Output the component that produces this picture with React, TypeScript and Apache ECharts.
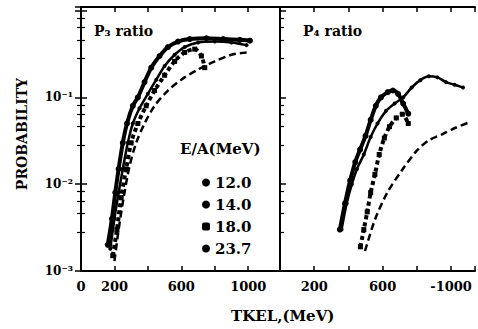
import React, { useEffect, useRef } from "react";
import * as echarts from "echarts";

// Energies per nucleon (legend)
const energyLabels = ["12.0", "14.0", "18.0", "23.7"];

// P3 ratio panel: [TKEL (MeV), probability]
const p3E120 = [[160, 0.002], [185, 0.004], [205, 0.008], [225, 0.015], [250, 0.03], [275, 0.05], [310, 0.08], [340, 0.1], [380, 0.15], [420, 0.22], [470, 0.3], [520, 0.38], [580, 0.44], [650, 0.47], [750, 0.48], [850, 0.47], [950, 0.46], [1010, 0.45]];
const p3E140 = [[175, 0.0018], [200, 0.004], [225, 0.008], [250, 0.015], [280, 0.03], [310, 0.05], [350, 0.075], [400, 0.11], [450, 0.16], [500, 0.23], [560, 0.31], [620, 0.38], [700, 0.43], [800, 0.44], [900, 0.43], [990, 0.4]];
const p3E180 = [[190, 0.0015], [215, 0.003], [240, 0.007], [270, 0.015], [300, 0.03], [340, 0.05], [390, 0.08], [440, 0.12], [500, 0.18], [560, 0.26], [620, 0.33], [680, 0.36], [720, 0.3], [740, 0.22]];
const p3E237 = [[200, 0.0013], [225, 0.003], [255, 0.007], [290, 0.016], [330, 0.03], [380, 0.05], [440, 0.08], [520, 0.12], [600, 0.16], [700, 0.21], [800, 0.26], [900, 0.31], [990, 0.33]];

// P4 ratio panel
const p4E120 = [[350, 0.003], [380, 0.006], [410, 0.011], [440, 0.018], [468, 0.025], [500, 0.036], [530, 0.055], [560, 0.08], [590, 0.1], [630, 0.115], [660, 0.12], [690, 0.11], [720, 0.085], [750, 0.065]];
const p4E140 = [[360, 0.003], [390, 0.006], [420, 0.01], [450, 0.015], [490, 0.022], [530, 0.035], [570, 0.05], [620, 0.07], [670, 0.085], [720, 0.1], [770, 0.13], [820, 0.158], [870, 0.175], [920, 0.17], [970, 0.15], [1020, 0.14], [1070, 0.13]];
const p4E180 = [[470, 0.0019], [490, 0.003], [510, 0.0048], [530, 0.008], [555, 0.013], [580, 0.022], [610, 0.034], [640, 0.046], [680, 0.058], [715, 0.064], [750, 0.05]];
const p4E237 = [[497, 0.0017], [555, 0.0039], [626, 0.0079], [713, 0.0145], [801, 0.0245], [870, 0.032], [953, 0.038], [1030, 0.045], [1111, 0.052]];

// Tick labels
const leftXTickLabels: Record<number, string> = { 0: "0", 200: "200", 600: "600", 1000: "1000" };
const rightXTickLabels: Record<number, string> = { 200: "200", 600: "600", 1000: "-1000" };
const yTickLabels: Record<number, string> = { [-3]: "10⁻³", [-2]: "10⁻²", [-1]: "10⁻¹" };

const panelTitles = ["P₃ ratio", "P₄ ratio"];
const legendTitle = "E/A(MeV)";
const xAxisTitle = "TKEL,(MeV)";
const yAxisTitle = "PROBABILITY";

const FONT = "DejaVu Serif";
const LOG_MAX = 1.1;

export default function App() {
  const ref = useRef<HTMLDivElement>(null);
  useEffect(() => {
    if (!ref.current) return;
    const chart = echarts.init(ref.current, undefined, { renderer: "svg" });

    const seriesStyle = (idx: number) => {
      if (idx === 0) return { lineStyle: { width: 4, color: "#000" }, symbol: "circle", symbolSize: 6, showSymbol: true };
      if (idx === 1) return { lineStyle: { width: 2.5, color: "#000" }, symbol: "circle", symbolSize: 4, showSymbol: true };
      if (idx === 2) return { lineStyle: { width: 4, color: "#000", type: [4, 3] }, symbol: "rect", symbolSize: 5, showSymbol: true };
      return { lineStyle: { width: 2.5, color: "#000", type: [7, 4] }, symbol: "none", showSymbol: false };
    };
    const mk = (name: string, data: number[][], idx: number, gi: number) => ({
      type: "line",
      name,
      data,
      xAxisIndex: gi,
      yAxisIndex: gi,
      smooth: 0.3,
      itemStyle: { color: "#000" },
      ...seriesStyle(idx),
    });

    const xBase = (gi: number, max: number, labels: Record<number, string>) => ({
      type: "value",
      gridIndex: gi,
      min: 0,
      max,
      interval: 200,
      position: "bottom",
      axisLine: { show: true, lineStyle: { color: "#000", width: 2 } },
      axisTick: { show: true, inside: true, length: 5, lineStyle: { color: "#000", width: 1.5 } },
      splitLine: { show: false },
      axisLabel: {
        show: true,
        color: "#000",
        fontFamily: FONT,
        fontWeight: "bold",
        fontSize: 13,
        margin: 9,
        showMaxLabel: true,
        formatter: (v: number) => labels[Math.round(v)] ?? "",
      },
    });
    const xTop = (gi: number, max: number) => ({
      type: "value",
      gridIndex: gi,
      min: 0,
      max,
      interval: 200,
      position: "top",
      axisLine: { show: true, lineStyle: { color: "#000", width: 2 } },
      axisTick: { show: true, inside: true, length: 5, lineStyle: { color: "#000", width: 1.5 } },
      splitLine: { show: false },
      axisLabel: { show: false },
    });
    const yAxis = (gi: number, position: string, showLabel: boolean, ticks: boolean) => ({
      type: "log",
      gridIndex: gi,
      min: 0.001,
      max: LOG_MAX,
      logBase: 10,
      position,
      axisLine: { show: true, lineStyle: { color: "#000", width: 2 } },
      axisTick: { show: ticks, inside: true, length: 6, lineStyle: { color: "#000", width: 1.5 } },
      minorTick: { show: ticks, length: 4, lineStyle: { color: "#000", width: 1.2 } },
      splitLine: { show: false },
      minorSplitLine: { show: false },
      axisLabel: {
        show: showLabel,
        color: "#000",
        fontFamily: FONT,
        fontWeight: "bold",
        fontSize: 12,
        margin: 8,
        formatter: (v: number) => yTickLabels[Math.round(Math.log10(v))] ?? "",
      },
    });

    const option = {
      animation: false,
      backgroundColor: "#fff",
      grid: [
        { left: 81, top: 7, width: 199, height: 264 },
        { left: 280, top: 7, width: 197, height: 264 },
      ],
      xAxis: [
        xBase(0, 1190, leftXTickLabels),
        xBase(1, 1140, rightXTickLabels),
        xTop(0, 1190),
        xTop(1, 1140),
      ],
      yAxis: [
        yAxis(0, "left", true, true),
        yAxis(1, "left", false, true),
        yAxis(0, "right", false, true),
        yAxis(1, "right", false, false),
      ],
      legend: {
        orient: "vertical",
        left: 197,
        top: 170,
        itemWidth: 8,
        itemHeight: 8,
        itemGap: 7,
        selectedMode: false,
        textStyle: { fontFamily: FONT, fontWeight: "bold", fontSize: 15, color: "#000" },
        data: energyLabels.map((n, i) => ({ name: n, icon: i === 2 ? "roundRect" : "circle", itemStyle: { color: "#000" } })),
      },
      graphic: [
        { type: "text", left: 94, top: 24, style: { text: panelTitles[0], fontFamily: FONT, fontWeight: "bold", fontSize: 14, fill: "#000" } },
        { type: "text", left: 303, top: 24, style: { text: panelTitles[1], fontFamily: FONT, fontWeight: "bold", fontSize: 14, fill: "#000" } },
        { type: "text", left: 180, top: 141, style: { text: legendTitle, fontFamily: FONT, fontWeight: "bold", fontSize: 15, fill: "#000" } },
        { type: "text", left: 231, top: 308, style: { text: xAxisTitle, fontFamily: FONT, fontWeight: "bold", fontSize: 15, fill: "#000" } },
        {
          type: "text",
          x: 22,
          y: 134,
          rotation: Math.PI / 2,
          style: { text: yAxisTitle, fontFamily: FONT, fontWeight: "bold", fontSize: 14, fill: "#000", align: "center", verticalAlign: "middle" },
        },
      ],
      series: [
        mk(energyLabels[0], p3E120, 0, 0),
        mk(energyLabels[1], p3E140, 1, 0),
        mk(energyLabels[2], p3E180, 2, 0),
        mk(energyLabels[3], p3E237, 3, 0),
        mk(energyLabels[0], p4E120, 0, 1),
        mk(energyLabels[1], p4E140, 1, 1),
        mk(energyLabels[2], p4E180, 2, 1),
        mk(energyLabels[3], p4E237, 3, 1),
      ],
    };
    chart.setOption(option as any);
    return () => chart.dispose();
  }, []);
  return <div ref={ref} style={{ position: "absolute", left: 0, top: 0, width: 478, height: 329 }} />;
}
